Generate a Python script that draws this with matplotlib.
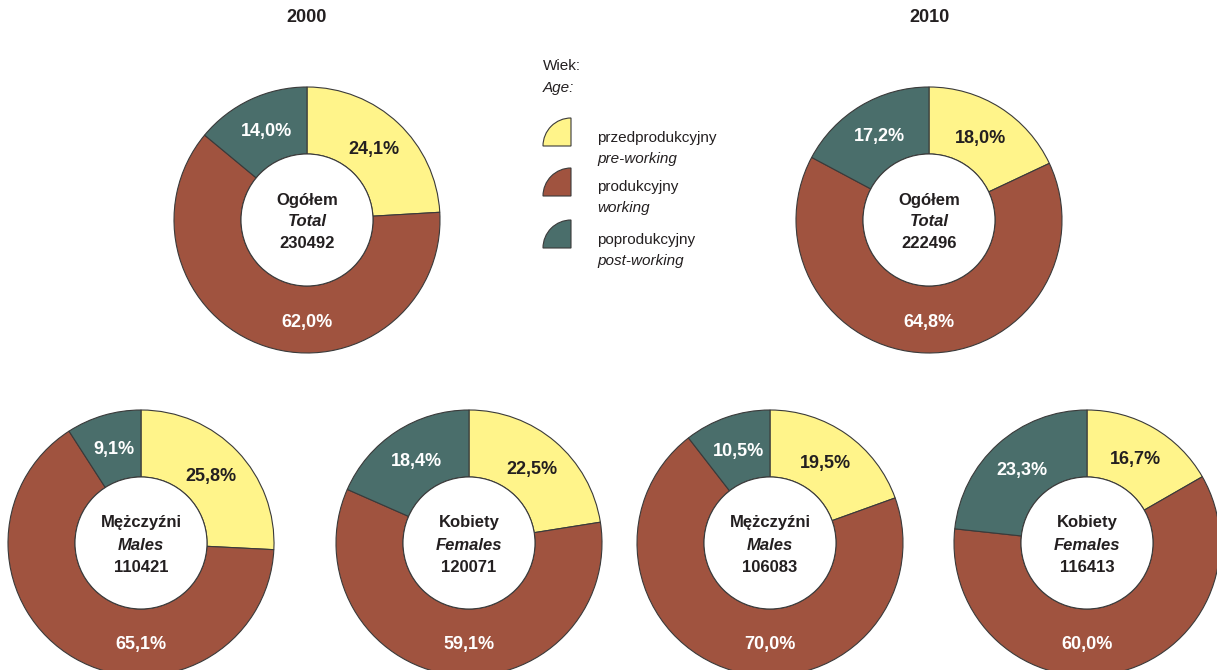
import numpy as np
import matplotlib.pyplot as plt
from matplotlib.patches import Wedge

# Data
years = ["2000", "2010"]
groups = ["Ogółem", "Mężczyźni", "Kobiety"]
groups_en = ["Total", "Males", "Females"]
age_pl = ["przedprodukcyjny", "produkcyjny", "poprodukcyjny"]
age_en = ["pre-working", "working", "post-working"]

total_2000 = [24.1, 62.0, 14.0]
total_2010 = [18.0, 64.8, 17.2]
males_2000 = [25.8, 65.1, 9.1]
females_2000 = [22.5, 59.1, 18.4]
males_2010 = [19.5, 70.0, 10.5]
females_2010 = [16.7, 60.0, 23.3]
counts = [230492, 222496, 110421, 120071, 106083, 116413]

colors = ["#FFF48A", "#A0533F", "#4A6E6B"]
edge = "#3a3a3a"
dark = "#231F20"

W, H = 1217, 670
R_OUT, R_IN = 133, 66

narrow = ["Liberation Sans Narrow", "Liberation Sans", "DejaVu Sans"]
regular = ["Liberation Sans", "DejaVu Sans"]

fig = plt.figure(figsize=(W / 100, H / 100), dpi=100)
ax = fig.add_axes([0, 0, 1, 1])


def donut(vals, cx, py, name, name_en, count):
    cy = H - py
    ax.pie(vals, colors=colors, radius=R_OUT, center=(cx, cy), startangle=90,
           counterclock=False,
           wedgeprops=dict(width=R_OUT - R_IN, edgecolor=edge, linewidth=0.8))
    # inner outline
    ax.add_patch(plt.Circle((cx, cy), R_IN, facecolor="white", edgecolor=edge, lw=0.8))
    # percentage labels
    start = 0.0
    for i, v in enumerate(vals):
        mid = start + v / 2
        start += v
        if i == 1:
            ang = 180.0
            r = 102
        else:
            ang = mid / 100 * 360
            r = 97
        x = cx + r * np.sin(np.radians(ang))
        y = cy + r * np.cos(np.radians(ang))
        ax.text(x, y, f"{v:.1f}%".replace(".", ","), ha="center", va="center",
                fontsize=13, fontweight="bold", family=narrow,
                color=dark if i == 0 else "white")
    ax.text(cx, cy + 20, name, ha="center", va="center", fontsize=12,
            fontweight="bold", family=narrow, color=dark)
    ax.text(cx, cy - 2, name_en, ha="center", va="center", fontsize=12,
            fontweight="bold", style="italic", family=narrow, color=dark)
    ax.text(cx, cy - 24, str(count), ha="center", va="center", fontsize=12,
            fontweight="bold", family=narrow, color=dark)


donut(total_2000, 307, 220, groups[0], groups_en[0], counts[0])
donut(total_2010, 929, 220, groups[0], groups_en[0], counts[1])
donut(males_2000, 141, 543, groups[1], groups_en[1], counts[2])
donut(females_2000, 469, 543, groups[2], groups_en[2], counts[3])
donut(males_2010, 770, 543, groups[1], groups_en[1], counts[4])
donut(females_2010, 1087, 543, groups[2], groups_en[2], counts[5])

# year titles
ax.text(307, H - 18, years[0], ha="center", va="center", fontsize=13,
        fontweight="bold", family=narrow, color=dark)
ax.text(929, H - 18, years[1], ha="center", va="center", fontsize=13,
        fontweight="bold", family=narrow, color=dark)

# legend
ax.text(543, H - 66, "Wiek:", ha="left", va="center", fontsize=11, family=regular, color=dark)
ax.text(543, H - 88, "Age:", ha="left", va="center", fontsize=11, style="italic",
        family=regular, color=dark)
icon_y = [146, 196, 248]
text_y = [138, 187, 240]
for i in range(3):
    ax.add_patch(Wedge((571, H - icon_y[i]), 28, 90, 180, facecolor=colors[i],
                       edgecolor=edge, lw=0.8))
    ax.text(597, H - text_y[i], age_pl[i], ha="left", va="center", fontsize=11,
            family=regular, color=dark)
    ax.text(597, H - text_y[i] - 21, age_en[i], ha="left", va="center", fontsize=11,
            style="italic", family=regular, color=dark)

ax.set_xlim(0, W)
ax.set_ylim(0, H)
ax.set_aspect("auto")
ax.axis("off")

fig.savefig("out.png", dpi=100)
